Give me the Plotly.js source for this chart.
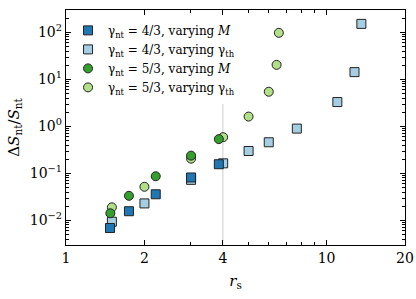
<!DOCTYPE html>
<html>
<head>
<meta charset="utf-8">
<script src="https://cdn.plot.ly/plotly-3.0.1.min.js"></script>
<style>html,body{margin:0;padding:0;background:#fff;}#chart{width:416px;height:299px;}</style>
</head>
<body>
<div id="chart"></div>
<script>
// gamma_nt = 4/3, varying M
const rs43M = [1.475, 1.744, 2.21, 3.02, 3.86];
const dS43M = [0.0069, 0.0157, 0.036, 0.082, 0.157];
// gamma_nt = 4/3, varying gamma_th
const rs43th = [1.50, 2.0, 3.02, 4.01, 5.02, 6.0, 7.69, 11.0, 12.8, 13.6];
const dS43th = [0.0094, 0.023, 0.073, 0.164, 0.30, 0.46, 0.90, 3.3, 14.3, 152];
// gamma_nt = 5/3, varying M
const rs53M = [1.48, 1.744, 2.21, 3.02, 3.86];
const dS53M = [0.0142, 0.0334, 0.087, 0.239, 0.537];
// gamma_nt = 5/3, varying gamma_th
const rs53th = [1.50, 2.0, 3.02, 4.01, 5.02, 6.0, 6.43, 6.56];
const dS53th = [0.019, 0.052, 0.206, 0.59, 1.62, 5.47, 20.4, 98];

const names = [
  "γ<sub>nt</sub> = 4/3, varying <i>M</i>",
  "γ<sub>nt</sub> = 4/3, varying γ<sub>th</sub>",
  "γ<sub>nt</sub> = 5/3, varying <i>M</i>",
  "γ<sub>nt</sub> = 5/3, varying γ<sub>th</sub>"
];
const colors = ["#1f78b4", "#a6cee3", "#33a02c", "#b2df8a"];

// reference vertical line
const refX = [4, 4];
const refY = [0.003, 3];

const xTickVals = [1, 2, 4, 10, 20];
const xTickText = ["1", "2", "4", "10", "20"];
const xMinor = [3, 5, 6, 7, 8, 9];
const yTickVals = [0.01, 0.1, 1, 10, 100];
const yTickText = ["10<sup>−2</sup>", "10<sup>−1</sup>", "10<sup>0</sup>", "10<sup>1</sup>", "10<sup>2</sup>"];
const yMinor = [];
[0.001, 0.01, 0.1, 1, 10, 100].forEach(d => { for (let k = 2; k <= 9; k++) yMinor.push(d * k); });

const font = "DejaVu Serif, Liberation Serif, serif";
const mk = (sym, c) => ({symbol: sym, size: 9, color: c, line: {color: "#222", width: 1}});

const traces = [
  {x: refX, y: refY, mode: "lines", line: {color: "#cccccc", width: 1}, showlegend: false, hoverinfo: "skip"},
  {x: rs43th, y: dS43th, mode: "markers", name: names[1], legendrank: 2, marker: mk("square", colors[1])},
  {x: rs43M, y: dS43M, mode: "markers", name: names[0], legendrank: 1, marker: mk("square", colors[0])},
  {x: rs53th, y: dS53th, mode: "markers", name: names[3], legendrank: 4, marker: mk("circle", colors[3])},
  {x: rs53M, y: dS53M, mode: "markers", name: names[2], legendrank: 3, marker: mk("circle", colors[2])}
];

const axisCommon = {
  type: "log", showgrid: false, zeroline: false, showline: true, linecolor: "#000", linewidth: 1.2,
  mirror: "allticks", ticks: "inside", ticklen: 5, tickwidth: 1, tickcolor: "#000",
  tickfont: {family: font, size: 14, color: "#000"}
};

const layout = {
  width: 416, height: 299,
  margin: {l: 66, r: 11, t: 9.5, b: 53.5},
  paper_bgcolor: "#fff", plot_bgcolor: "#fff",
  font: {family: font, color: "#000"},
  showlegend: true,
  legend: {x: 0.006, y: 0.975, xanchor: "left", yanchor: "top", bgcolor: "rgba(0,0,0,0)", borderwidth: 0,
           font: {family: font, size: 12, color: "#000"}, traceorder: "normal", tracegroupgap: 0},
  xaxis: Object.assign({}, axisCommon, {
    range: [0, Math.log10(20)], tickmode: "array", tickvals: xTickVals, ticktext: xTickText,
    minor: {tickmode: "array", tickvals: xMinor, ticks: "inside", ticklen: 3, tickcolor: "#000", tickwidth: 1},
    title: {text: "<i>r</i><sub>s</sub>", font: {family: font, size: 15}, standoff: 10}
  }),
  yaxis: Object.assign({}, axisCommon, {
    range: [Math.log10(0.003), Math.log10(300)], tickmode: "array", tickvals: yTickVals, ticktext: yTickText,
    minor: {tickmode: "array", tickvals: yMinor, ticks: "inside", ticklen: 3, tickcolor: "#000", tickwidth: 1},
    title: {text: "Δ<i>S</i><sub>nt</sub>/<i>S</i><sub>nt</sub>", font: {family: font, size: 15}, standoff: 6}
  })
};

Plotly.newPlot("chart", traces, layout, {staticPlot: true, displayModeBar: false});
</script>
</body>
</html>
